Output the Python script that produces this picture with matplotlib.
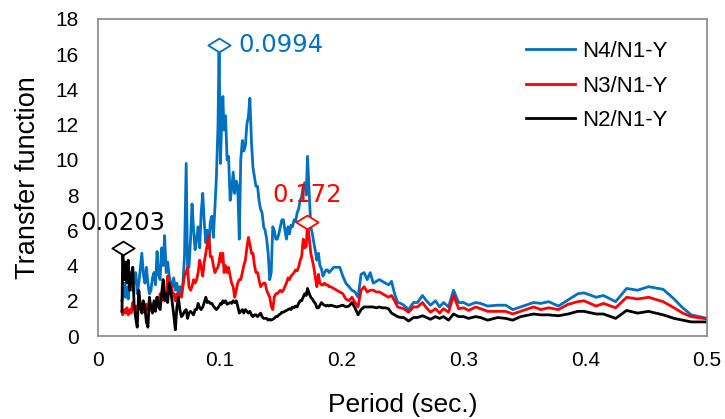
import matplotlib.pyplot as plt
import numpy as np
from matplotlib.path import Path
from matplotlib.ticker import FuncFormatter

plt.rcParams['font.family'] = ['Liberation Sans', 'DejaVu Sans']

# period (sec.) shared by the three transfer functions
period = [
    0.0197, 0.0203, 0.0215, 0.0225, 0.0237, 0.0248, 0.026, 0.0272, 0.0285, 0.0297,
    0.031, 0.0322, 0.0335, 0.0347, 0.036, 0.0372, 0.0385, 0.0397, 0.041, 0.0422,
    0.0435, 0.0447, 0.046, 0.0472, 0.0485, 0.0497, 0.051, 0.0522, 0.0535, 0.0547,
    0.056, 0.0572, 0.0585, 0.0597, 0.061, 0.0622, 0.0635, 0.0647, 0.066, 0.0672,
    0.0685, 0.0697, 0.071, 0.0724, 0.0735, 0.0747, 0.076, 0.0772, 0.0785, 0.0797,
    0.081, 0.0822, 0.0835, 0.0847, 0.086, 0.0872, 0.0885, 0.0897, 0.091, 0.0922,
    0.0935, 0.0947, 0.096, 0.0972, 0.0985, 0.0994, 0.1005, 0.1015, 0.1025, 0.1035,
    0.1047, 0.106, 0.1072, 0.1085, 0.1097, 0.111, 0.1122, 0.1135, 0.1147, 0.116,
    0.1172, 0.1185, 0.1197, 0.121, 0.1222, 0.1235, 0.1247, 0.126, 0.1272, 0.1285,
    0.1297, 0.131, 0.1322, 0.1335, 0.1347, 0.136, 0.1372, 0.1385, 0.1397, 0.141,
    0.1422, 0.1435, 0.1447, 0.146, 0.1472, 0.1485, 0.1497, 0.151, 0.1522, 0.1535,
    0.1547, 0.156, 0.1572, 0.1585, 0.1597, 0.161, 0.1622, 0.1635, 0.1647, 0.166,
    0.1672, 0.1685, 0.1697, 0.171, 0.172, 0.1735, 0.1747, 0.176, 0.1772, 0.1785,
    0.1797, 0.181, 0.1822, 0.1835, 0.1847, 0.186, 0.1872, 0.1885, 0.1897, 0.191,
    0.1935, 0.196, 0.1985, 0.201, 0.2035, 0.206, 0.2085, 0.211, 0.2135, 0.216,
    0.2185, 0.221, 0.2235, 0.226, 0.2285, 0.231, 0.2335, 0.236, 0.2385, 0.241,
    0.2435, 0.246, 0.2485, 0.251,
    0.255, 0.259, 0.2623, 0.2664, 0.2697, 0.273, 0.2771, 0.2804, 0.2837, 0.2878,
    0.2919, 0.2961, 0.3002, 0.3043, 0.31, 0.3141, 0.3199, 0.3281, 0.3347, 0.3405,
    0.347, 0.3577, 0.3635, 0.370, 0.378, 0.386, 0.394, 0.399, 0.409, 0.415,
    0.425, 0.434, 0.443, 0.452, 0.464, 0.473, 0.480, 0.487, 0.497, 0.5,
]

n4_n1 = [
    2.0, 2.4, 3.0, 2.2, 2.8, 2.1, 3.2, 2.6, 3.9, 3.0,
    3.6, 2.4, 3.0, 3.8, 4.7, 3.5, 3.0, 3.9, 3.0, 2.4,
    2.6, 3.3, 3.6, 2.9, 4.8, 3.5, 3.2, 5.0, 4.0, 5.7,
    3.6, 4.2, 3.4, 3.0, 2.8, 3.3, 2.6, 3.0, 2.4, 2.8,
    2.3, 3.0, 4.5, 9.8, 4.0, 3.9, 5.5, 7.5, 6.0, 4.9,
    5.5, 6.2, 5.0, 7.0, 8.1, 6.5, 5.3, 6.0, 5.0, 6.5,
    6.8, 5.6, 7.3, 9.0, 11.9, 16.5, 9.8, 12.0, 13.6, 11.7,
    12.5, 10.0, 10.2, 7.7, 8.3, 9.3, 8.1, 8.8, 8.5, 5.5,
    10.0, 11.1, 10.5, 10.8, 12.0, 12.5, 13.5, 11.0, 9.6, 9.0,
    8.5, 8.5, 7.7, 7.2, 7.0, 6.2, 6.0, 5.5, 4.7, 3.2,
    3.6, 6.2, 6.0, 5.5, 5.5, 5.8, 6.2, 6.6, 6.6, 6.0,
    5.5, 6.2, 5.8, 6.3, 6.2, 6.6, 6.5, 7.0, 7.2, 7.7,
    7.9, 8.5, 8.7, 8.0, 10.2, 8.0, 6.2, 5.8, 5.3, 4.8,
    4.3, 4.7, 4.0, 3.8, 3.4, 3.6, 3.75, 3.75, 3.6, 3.7,
    3.9, 3.9, 3.9, 3.4, 3.0, 2.8, 2.6, 2.5, 2.2, 3.5,
    3.6, 3.2, 3.6, 3.0, 3.1, 3.2, 3.1, 3.0, 2.9, 3.1,
    2.4, 1.9, 1.85, 1.75,
    1.5, 1.9, 1.9, 2.3, 2.0, 1.75, 2.0, 1.65, 1.9, 1.65,
    2.6, 1.9, 1.9, 1.75, 1.9, 1.85, 1.7, 1.75, 1.75, 1.5,
    1.65, 1.9, 1.85, 1.95, 1.7, 2.05, 2.4, 2.45, 2.2, 2.3,
    1.95, 2.7, 2.6, 2.8, 2.65, 2.1, 1.6, 1.2, 1.05, 1.0,
]

n3_n1 = [
    1.4, 1.2, 1.5, 1.3, 1.6, 1.2, 1.5, 1.3, 1.9, 1.6,
    1.7, 1.3, 2.0, 1.5, 1.8, 1.6, 1.3, 1.8, 1.5, 2.0,
    1.6, 1.4, 1.9, 1.5, 2.2, 1.8, 2.4, 2.0, 2.6, 2.2,
    2.4, 3.4, 2.8, 3.0, 2.5, 2.4, 2.0, 2.4, 2.2, 2.4,
    2.2, 2.8, 3.4, 3.6, 3.9, 2.8, 2.6, 2.8, 3.2, 3.0,
    3.2, 3.6, 4.3, 3.9, 3.4, 4.2, 4.7, 5.2, 5.7, 4.5,
    4.5, 4.0, 3.6, 3.8, 3.9, 4.2, 4.7, 4.2, 4.7, 3.6,
    4.0, 3.6, 3.9, 3.4, 3.0, 2.8, 2.2, 2.6, 3.0, 3.2,
    3.2, 3.6, 4.0, 4.3, 5.0, 5.6, 5.2, 4.7, 4.7, 4.0,
    3.6, 3.6, 3.2, 2.8, 2.9, 3.0, 3.0, 2.6, 2.4, 2.2,
    1.7, 1.5, 2.2, 2.4, 2.4, 2.5, 2.6, 2.5, 2.6, 2.8,
    3.0, 3.3, 3.2, 3.4, 3.5, 3.6, 3.75, 3.7, 3.9, 4.3,
    4.5, 5.5, 5.0, 5.1, 6.5, 5.5, 4.7, 4.3, 3.9, 3.3,
    2.8, 3.5, 3.0, 2.9, 2.9, 3.0, 2.9, 2.9, 2.8, 2.8,
    2.7, 2.6, 2.5, 2.4, 2.1, 2.0, 2.2, 1.9, 1.65, 2.6,
    2.8, 2.5, 2.6, 2.6, 2.5, 2.5, 2.4, 2.3, 2.2, 2.3,
    2.0, 1.65, 1.6, 1.55,
    1.35, 1.65, 1.65, 1.9, 1.6, 1.35, 1.55, 1.3, 1.55, 1.35,
    2.3, 1.55, 1.6, 1.45, 1.65, 1.55, 1.4, 1.4, 1.4, 1.25,
    1.4, 1.65, 1.5, 1.6, 1.5, 1.8, 1.95, 2.0, 1.7, 1.85,
    1.6, 2.2, 2.1, 2.2, 1.95, 1.6, 1.3, 1.1, 1.0, 0.98,
]

n2_n1 = [
    1.4, 5.0, 3.2, 4.2, 3.0, 4.3, 2.6, 3.4, 3.9, 1.65,
    1.0, 0.5, 2.6, 1.8, 1.3, 2.0, 1.65, 0.8, 0.5, 2.2,
    1.6, 1.3, 2.0, 1.4, 2.2, 1.7, 1.5, 2.4, 3.2, 2.0,
    2.4, 1.9, 3.0, 2.6, 1.85, 1.2, 0.35, 1.6, 2.2, 1.5,
    1.1, 1.2, 1.4, 1.5, 1.0, 1.3, 1.4, 1.3, 1.2, 1.5,
    1.5, 1.85, 1.6, 1.5, 1.65, 1.9, 2.2, 1.9, 1.95, 1.85,
    1.85, 1.7, 1.6, 1.5, 1.6, 1.7, 1.85, 1.8, 2.0, 1.9,
    2.0, 1.8, 1.85, 1.9, 1.85, 2.0, 1.9, 2.0, 1.7, 1.3,
    1.4, 1.5, 1.3, 1.5, 1.4, 1.3, 1.4, 1.2, 1.1, 1.2,
    1.2, 1.1, 1.2, 1.3, 1.1, 1.0, 1.0, 1.0, 0.9, 0.95,
    0.9, 0.95, 1.0, 1.1, 1.1, 1.2, 1.25, 1.35, 1.35, 1.4,
    1.45, 1.5, 1.55, 1.5, 1.65, 1.6, 1.7, 1.65, 1.85, 2.0,
    2.0, 2.2, 2.4, 2.3, 2.7, 2.4, 2.2, 2.1, 1.95, 1.85,
    1.6, 1.6, 1.75, 1.9, 1.8, 1.75, 1.7, 1.75, 1.7, 1.75,
    1.7, 1.65, 1.7, 1.75, 1.65, 1.7, 1.9, 1.6, 1.2, 1.5,
    1.65, 1.65, 1.65, 1.65, 1.6, 1.65, 1.6, 1.6, 1.55, 1.3,
    1.2, 1.1, 1.05, 1.05,
    0.85, 1.05, 1.05, 1.15, 1.05, 0.95, 1.1, 1.0, 1.1, 0.9,
    1.25, 1.1, 1.1, 1.0, 1.1, 1.05, 0.9, 1.05, 1.0, 0.9,
    1.1, 1.25, 1.2, 1.2, 1.15, 1.25, 1.4, 1.4, 1.25, 1.25,
    1.0, 1.45, 1.3, 1.4, 1.2, 1.0, 0.9, 0.8, 0.8, 0.8,
]

series = [
    ("N4/N1-Y", n4_n1, "#0070C0"),
    ("N3/N1-Y", n3_n1, "#FF0000"),
    ("N2/N1-Y", n2_n1, "#000000"),
]

# flat diamond used to flag the peak of each curve
diamond = Path([(-1, 0), (0, 0.62), (1, 0), (0, -0.62), (-1, 0)],
               [Path.MOVETO, Path.LINETO, Path.LINETO, Path.LINETO, Path.CLOSEPOLY])

fig = plt.figure(figsize=(7.25, 4.19), dpi=100)
ax = fig.add_axes([98 / 725, 83 / 419, 609 / 725, 317 / 419])

for name, vals, col in series:
    ax.plot(period, vals, color=col, lw=2.0, label=name, zorder=2)

# peak markers and labels
label_offsets = {"N4/N1-Y": (14, 0, "left", "center"),
                 "N3/N1-Y": (0, 19, "center", "center"),
                 "N2/N1-Y": (0, 18, "center", "center")}
for name, vals, col in series:
    i = int(np.argmax(vals))
    ax.plot(period[i], vals[i], marker=diamond, ms=16, mfc="white",
            mec=col, mew=1.3, zorder=3)
    dx, dy, ha, va = label_offsets[name]
    ax.annotate(f"{period[i]:g}", (period[i], vals[i]), xytext=(dx, dy),
                textcoords="offset points", ha=ha, va=va, color=col,
                fontsize=17.5, family=["DejaVu Sans"], zorder=4)

ax.set_xlim(0, 0.5)
ax.set_ylim(0, 18)
ax.set_xticks(np.arange(0, 0.51, 0.1))
ax.set_yticks(np.arange(0, 19, 2))
ax.xaxis.set_major_formatter(FuncFormatter(lambda v, p: f"{v:g}"))
ax.tick_params(axis="both", length=0, labelsize=15, colors="#000000")
ax.tick_params(axis="y", pad=14)
ax.tick_params(axis="x", pad=11)

for s in ax.spines.values():
    s.set_color("#868686")
    s.set_linewidth(1.2)

ax.set_xlabel("Period (sec.)", fontsize=19, labelpad=16)
ax.set_ylabel("Transfer function", fontsize=19.5, labelpad=10)

ax.legend(loc="upper right", bbox_to_anchor=(0.935, 0.93), frameon=False,
          fontsize=16, handlelength=2.2, handletextpad=0.3,
          labelspacing=0.6, borderaxespad=0, borderpad=0)

fig.savefig("out.png", dpi=100)
